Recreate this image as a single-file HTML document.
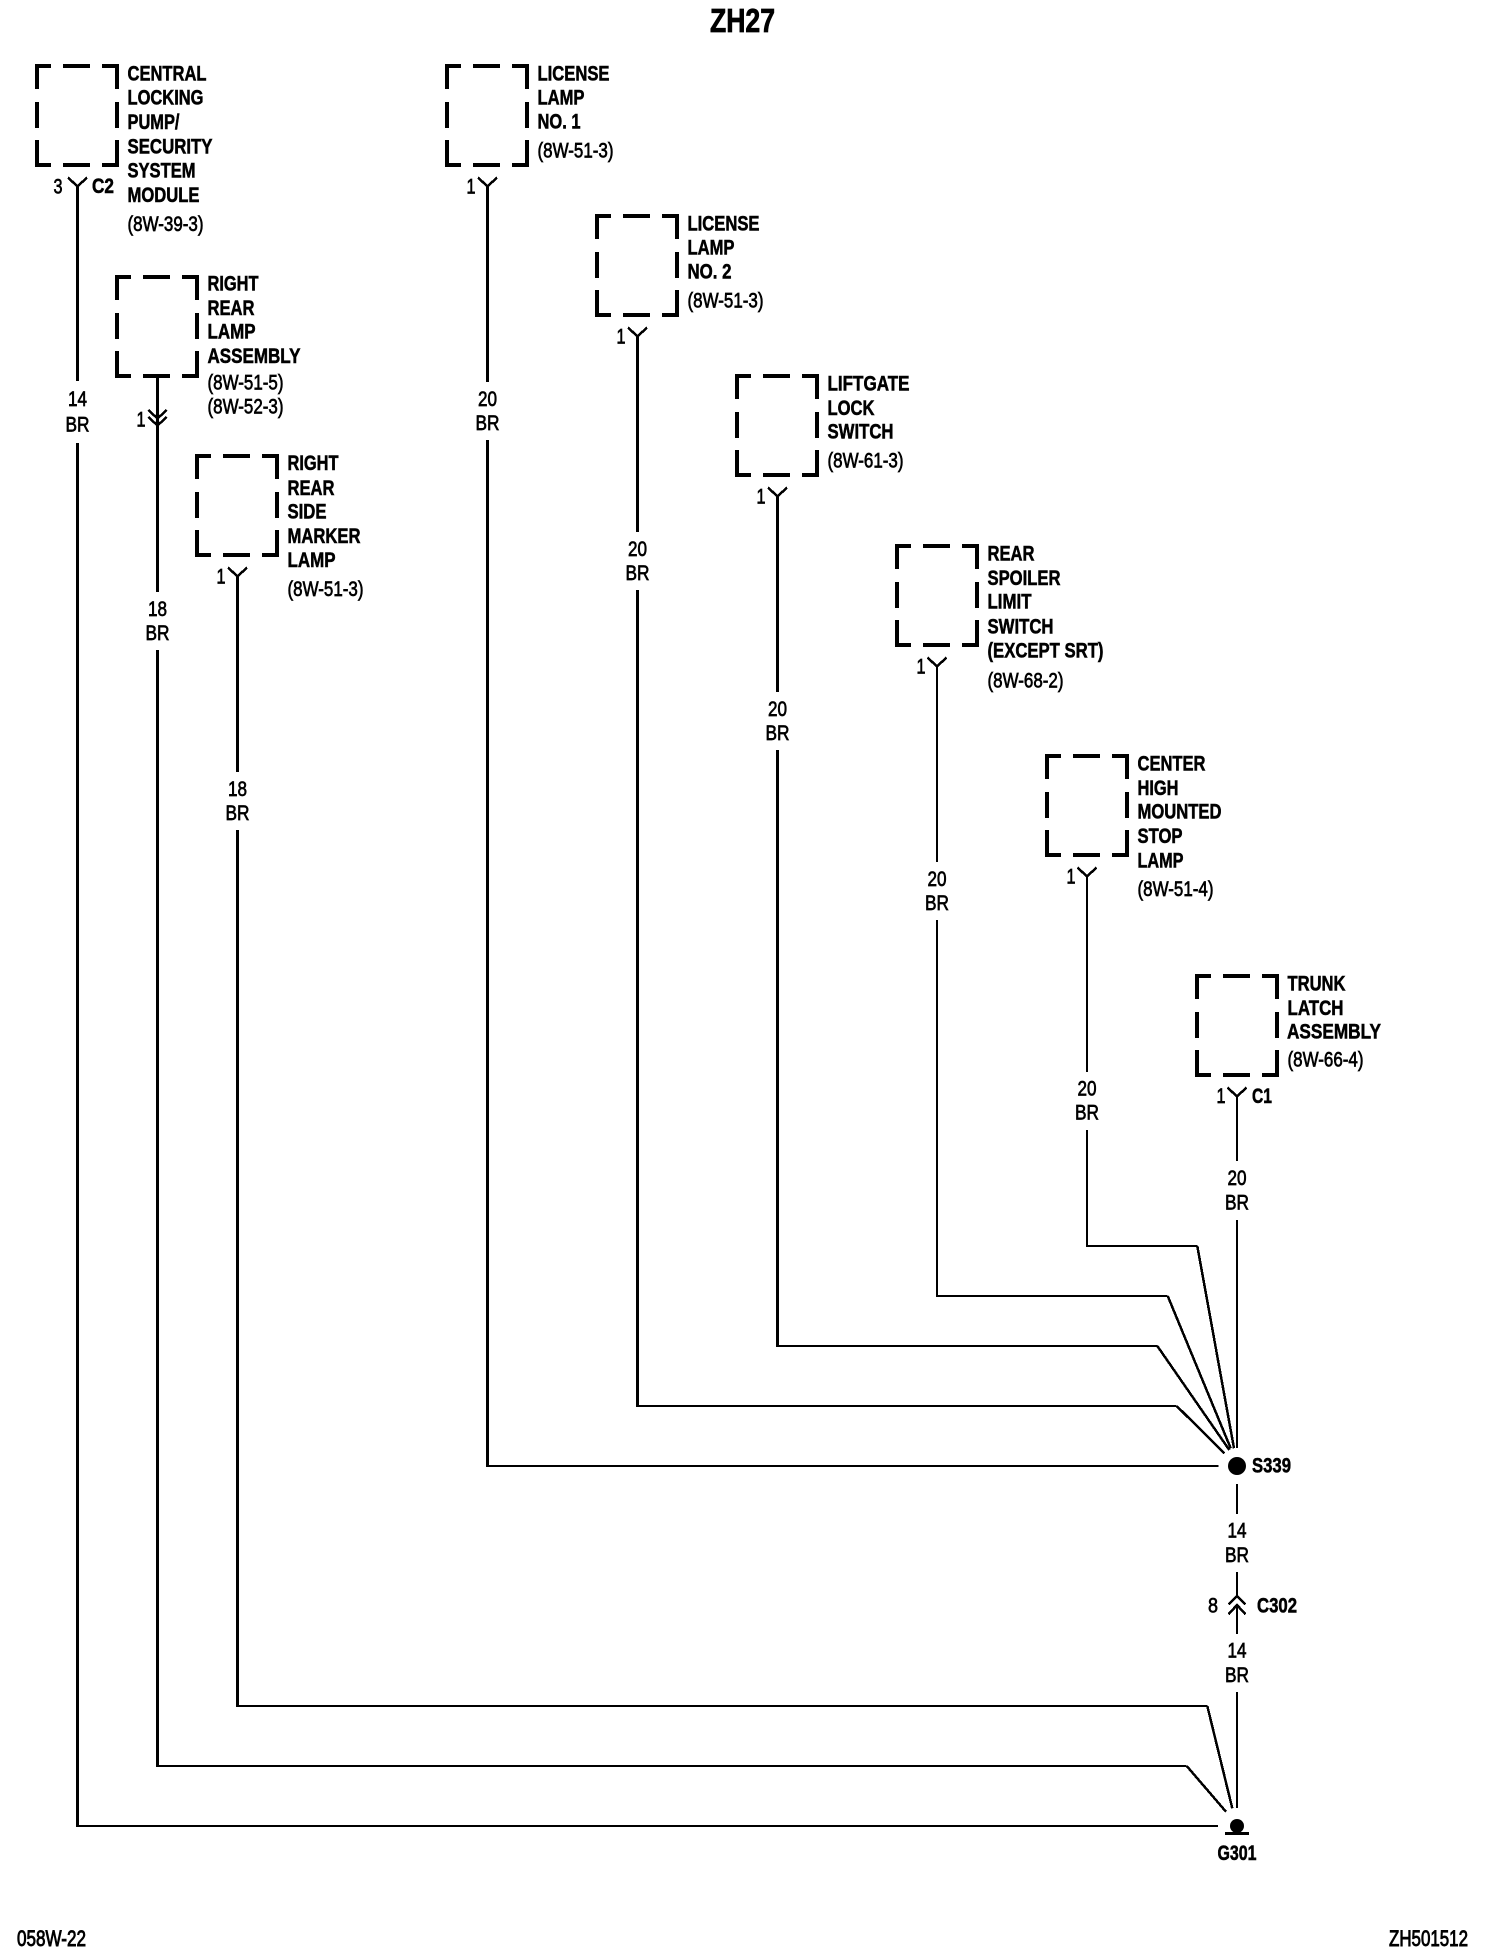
<!DOCTYPE html>
<html><head><meta charset="utf-8"><style>
html,body{margin:0;padding:0;background:#fff}
svg{display:block}
text{font-family:"Liberation Sans",sans-serif;font-size:21px;fill:#000;transform:translateY(-.6px)}
.b{font-weight:bold;stroke:#000;stroke-width:.55px}
.r{stroke:#000;stroke-width:.7px}
.m{text-anchor:middle}
.w{fill:none;stroke:#000;shape-rendering:crispEdges}
</style></head><body>
<svg xmlns="http://www.w3.org/2000/svg" width="1504" height="1954" viewBox="0 0 1504 1954">
<rect width="1504" height="1954" fill="#fff"/>
<defs>
<path id="bx" class="w" stroke-width="4" d="M2 25V2H16M28 2H55M67 2H82V25M2 38V64M82 38V64M2 76V101H16M28 101H55M67 101H82V76"/>
<path id="yc" class="w" stroke-width="2.5" d="M-9.5 -.5L0 8.5L9.5 -.5"/>
</defs>
<!-- boxes -->
<use href="#bx" x="35" y="64"/><use href="#bx" x="115" y="275"/><use href="#bx" x="195" y="454"/>
<use href="#bx" x="445" y="64"/><use href="#bx" x="595" y="214"/><use href="#bx" x="735" y="374"/>
<use href="#bx" x="895" y="544"/><use href="#bx" x="1045" y="754"/><use href="#bx" x="1195" y="974"/>
<!-- connectors -->
<use href="#yc" x="77.5" y="178"/><use href="#yc" x="237.5" y="568"/><use href="#yc" x="487.5" y="178"/>
<use href="#yc" x="637.5" y="328"/><use href="#yc" x="777.5" y="488"/><use href="#yc" x="937" y="658"/>
<use href="#yc" x="1087" y="868"/><use href="#yc" x="1237" y="1088"/>
<path class="w" stroke-width="2.5" d="M148.3 410L157.5 418.5L166.7 410M148.3 417L157.5 425.5L166.7 417"/>
<path class="w" stroke-width="2.5" d="M1228.5 1604.5L1237 1596L1245.5 1604.5M1228.5 1614.3L1237 1605L1245.5 1614.3"/>
<!-- verticals 3px -->
<path class="w" stroke-width="3" d="M77.5 186V381M77.5 443V1827M157.5 377V592M157.5 650V1767M237.5 576V772M237.5 830V1707M487.5 186V382M487.5 440V1467M637.5 336V532M637.5 590V1407M777.5 496V692M777.5 750V1347"/>
<!-- verticals 2px -->
<path class="w" stroke-width="2" d="M937 666V862M937 920V1297M1087 876V1072M1087 1130V1247M1237 1096V1161M1237 1220V1448M1237 1484V1514M1237 1572V1596M1237 1605V1634M1237 1692V1808"/>
<!-- horizontals -->
<path class="w" stroke-width="2" d="M1087 1246H1197.3M937 1296H1167.7M777.5 1346H1157.3M637.5 1406H1176.7M487.5 1466H1218.3M237.5 1706H1207.3M157.5 1766H1186.7M77.5 1826H1218"/>
<!-- diagonals -->
<path class="w" stroke-width="2.5" d="M1197.3 1246L1234 1448.3M1167.7 1296L1230.7 1448.3M1157.3 1346L1229.3 1450M1176.7 1406L1224.3 1453.3M1207.3 1706L1232.3 1808.3M1186.7 1766L1226 1811.7"/>
<!-- splice + ground -->
<circle cx="1237" cy="1466" r="9"/>
<circle cx="1237" cy="1826" r="7"/>
<rect x="1225" y="1832" width="24" height="3"/>
<!-- title -->
<text class="b" x="710" y="32.7" style="font-size:33px;stroke-width:.8px" textLength="65" lengthAdjust="spacingAndGlyphs">ZH27</text>
<text class="r" x="17" y="1946.7" style="font-size:22px;stroke-width:.9px" textLength="69" lengthAdjust="spacingAndGlyphs">058W-22</text>
<text class="r" x="1389" y="1946.7" style="font-size:22px;stroke-width:.9px" textLength="79" lengthAdjust="spacingAndGlyphs">ZH501512</text>
<!-- B1 -->
<text class="b" x="127.5" y="81" textLength="79" lengthAdjust="spacingAndGlyphs">CENTRAL</text>
<text class="b" x="127.5" y="105.3" textLength="76" lengthAdjust="spacingAndGlyphs">LOCKING</text>
<text class="b" x="127.5" y="129.5" textLength="52" lengthAdjust="spacingAndGlyphs">PUMP/</text>
<text class="b" x="127.5" y="154" textLength="85" lengthAdjust="spacingAndGlyphs">SECURITY</text>
<text class="b" x="127.5" y="178" textLength="68" lengthAdjust="spacingAndGlyphs">SYSTEM</text>
<text class="b" x="127.5" y="202.5" textLength="72" lengthAdjust="spacingAndGlyphs">MODULE</text>
<text class="r" x="127.5" y="231.7" textLength="76" lengthAdjust="spacingAndGlyphs">(8W-39-3)</text>
<text class="r" x="53.5" y="194" textLength="9" lengthAdjust="spacingAndGlyphs">3</text>
<text class="b" x="92" y="193.5" textLength="22" lengthAdjust="spacingAndGlyphs">C2</text>
<!-- B2 -->
<text class="b" x="207.5" y="291" textLength="51" lengthAdjust="spacingAndGlyphs">RIGHT</text>
<text class="b" x="207.5" y="315.5" textLength="47" lengthAdjust="spacingAndGlyphs">REAR</text>
<text class="b" x="207.5" y="339.3" textLength="48" lengthAdjust="spacingAndGlyphs">LAMP</text>
<text class="b" x="207.5" y="363.5" textLength="93" lengthAdjust="spacingAndGlyphs">ASSEMBLY</text>
<text class="r" x="207.5" y="390" textLength="76" lengthAdjust="spacingAndGlyphs">(8W-51-5)</text>
<text class="r" x="207.5" y="414" textLength="76" lengthAdjust="spacingAndGlyphs">(8W-52-3)</text>
<text class="r" x="136.5" y="427" textLength="9" lengthAdjust="spacingAndGlyphs">1</text>
<!-- B3 -->
<text class="b" x="287.5" y="470.7" textLength="51" lengthAdjust="spacingAndGlyphs">RIGHT</text>
<text class="b" x="287.5" y="495.5" textLength="47" lengthAdjust="spacingAndGlyphs">REAR</text>
<text class="b" x="287.5" y="519.3" textLength="39" lengthAdjust="spacingAndGlyphs">SIDE</text>
<text class="b" x="287.5" y="543.7" textLength="73" lengthAdjust="spacingAndGlyphs">MARKER</text>
<text class="b" x="287.5" y="567.7" textLength="48" lengthAdjust="spacingAndGlyphs">LAMP</text>
<text class="r" x="287.5" y="596.7" textLength="76" lengthAdjust="spacingAndGlyphs">(8W-51-3)</text>
<text class="r" x="216.5" y="584" textLength="9" lengthAdjust="spacingAndGlyphs">1</text>
<!-- B4 -->
<text class="b" x="537.5" y="81" textLength="72" lengthAdjust="spacingAndGlyphs">LICENSE</text>
<text class="b" x="537.5" y="105.3" textLength="47" lengthAdjust="spacingAndGlyphs">LAMP</text>
<text class="b" x="537.5" y="129.3" textLength="43" lengthAdjust="spacingAndGlyphs">NO. 1</text>
<text class="r" x="537.5" y="158.3" textLength="76" lengthAdjust="spacingAndGlyphs">(8W-51-3)</text>
<text class="r" x="466.5" y="194" textLength="9" lengthAdjust="spacingAndGlyphs">1</text>
<!-- B5 -->
<text class="b" x="687.5" y="231" textLength="72" lengthAdjust="spacingAndGlyphs">LICENSE</text>
<text class="b" x="687.5" y="255.3" textLength="47" lengthAdjust="spacingAndGlyphs">LAMP</text>
<text class="b" x="687.5" y="279.3" textLength="44" lengthAdjust="spacingAndGlyphs">NO. 2</text>
<text class="r" x="687.5" y="308.3" textLength="76" lengthAdjust="spacingAndGlyphs">(8W-51-3)</text>
<text class="r" x="616.5" y="344" textLength="9" lengthAdjust="spacingAndGlyphs">1</text>
<!-- B6 -->
<text class="b" x="827.5" y="391" textLength="82" lengthAdjust="spacingAndGlyphs">LIFTGATE</text>
<text class="b" x="827.5" y="415.5" textLength="47" lengthAdjust="spacingAndGlyphs">LOCK</text>
<text class="b" x="827.5" y="439.3" textLength="66" lengthAdjust="spacingAndGlyphs">SWITCH</text>
<text class="r" x="827.5" y="468.3" textLength="76" lengthAdjust="spacingAndGlyphs">(8W-61-3)</text>
<text class="r" x="756.5" y="504" textLength="9" lengthAdjust="spacingAndGlyphs">1</text>
<!-- B7 -->
<text class="b" x="987.5" y="561" textLength="47" lengthAdjust="spacingAndGlyphs">REAR</text>
<text class="b" x="987.5" y="585.5" textLength="73" lengthAdjust="spacingAndGlyphs">SPOILER</text>
<text class="b" x="987.5" y="609.3" textLength="44" lengthAdjust="spacingAndGlyphs">LIMIT</text>
<text class="b" x="987.5" y="634" textLength="66" lengthAdjust="spacingAndGlyphs">SWITCH</text>
<text class="b" x="987.5" y="658.3" textLength="116" lengthAdjust="spacingAndGlyphs">(EXCEPT SRT)</text>
<text class="r" x="987.5" y="688.3" textLength="76" lengthAdjust="spacingAndGlyphs">(8W-68-2)</text>
<text class="r" x="916.5" y="674" textLength="9" lengthAdjust="spacingAndGlyphs">1</text>
<!-- B8 -->
<text class="b" x="1137.5" y="771" textLength="68" lengthAdjust="spacingAndGlyphs">CENTER</text>
<text class="b" x="1137.5" y="795.5" textLength="41" lengthAdjust="spacingAndGlyphs">HIGH</text>
<text class="b" x="1137.5" y="819.3" textLength="84" lengthAdjust="spacingAndGlyphs">MOUNTED</text>
<text class="b" x="1137.5" y="843.5" textLength="45" lengthAdjust="spacingAndGlyphs">STOP</text>
<text class="b" x="1137.5" y="868" textLength="46" lengthAdjust="spacingAndGlyphs">LAMP</text>
<text class="r" x="1137.5" y="896.7" textLength="76" lengthAdjust="spacingAndGlyphs">(8W-51-4)</text>
<text class="r" x="1066.5" y="884" textLength="9" lengthAdjust="spacingAndGlyphs">1</text>
<!-- B9 -->
<text class="b" x="1287.5" y="991" textLength="58" lengthAdjust="spacingAndGlyphs">TRUNK</text>
<text class="b" x="1287.5" y="1015.5" textLength="56" lengthAdjust="spacingAndGlyphs">LATCH</text>
<text class="b" x="1287" y="1039.3" textLength="94" lengthAdjust="spacingAndGlyphs">ASSEMBLY</text>
<text class="r" x="1287.5" y="1067.3" textLength="76" lengthAdjust="spacingAndGlyphs">(8W-66-4)</text>
<text class="r" x="1216.5" y="1103.5" textLength="9" lengthAdjust="spacingAndGlyphs">1</text>
<text class="b" x="1252" y="1103.5" textLength="20" lengthAdjust="spacingAndGlyphs">C1</text>
<!-- wire labels -->
<text class="r m" x="77.5" y="406.7" textLength="19" lengthAdjust="spacingAndGlyphs">14</text>
<text class="r m" x="77.5" y="432" textLength="24" lengthAdjust="spacingAndGlyphs">BR</text>
<text class="r m" x="157.5" y="616.7" textLength="19" lengthAdjust="spacingAndGlyphs">18</text>
<text class="r m" x="157.5" y="640.7" textLength="24" lengthAdjust="spacingAndGlyphs">BR</text>
<text class="r m" x="237.5" y="796.7" textLength="19" lengthAdjust="spacingAndGlyphs">18</text>
<text class="r m" x="237.5" y="820.7" textLength="24" lengthAdjust="spacingAndGlyphs">BR</text>
<text class="r m" x="487.5" y="406.7" textLength="19" lengthAdjust="spacingAndGlyphs">20</text>
<text class="r m" x="487.5" y="430.7" textLength="24" lengthAdjust="spacingAndGlyphs">BR</text>
<text class="r m" x="637.5" y="556.7" textLength="19" lengthAdjust="spacingAndGlyphs">20</text>
<text class="r m" x="637.5" y="580.7" textLength="24" lengthAdjust="spacingAndGlyphs">BR</text>
<text class="r m" x="777.5" y="716.7" textLength="19" lengthAdjust="spacingAndGlyphs">20</text>
<text class="r m" x="777.5" y="740.7" textLength="24" lengthAdjust="spacingAndGlyphs">BR</text>
<text class="r m" x="937" y="886.7" textLength="19" lengthAdjust="spacingAndGlyphs">20</text>
<text class="r m" x="937" y="910.7" textLength="24" lengthAdjust="spacingAndGlyphs">BR</text>
<text class="r m" x="1087" y="1096" textLength="19" lengthAdjust="spacingAndGlyphs">20</text>
<text class="r m" x="1087" y="1120" textLength="24" lengthAdjust="spacingAndGlyphs">BR</text>
<text class="r m" x="1237" y="1185.7" textLength="19" lengthAdjust="spacingAndGlyphs">20</text>
<text class="r m" x="1237" y="1210" textLength="24" lengthAdjust="spacingAndGlyphs">BR</text>
<text class="r m" x="1237" y="1538.3" textLength="19" lengthAdjust="spacingAndGlyphs">14</text>
<text class="r m" x="1237" y="1562.7" textLength="24" lengthAdjust="spacingAndGlyphs">BR</text>
<text class="r m" x="1237" y="1658.3" textLength="19" lengthAdjust="spacingAndGlyphs">14</text>
<text class="r m" x="1237" y="1682.7" textLength="24" lengthAdjust="spacingAndGlyphs">BR</text>
<!-- refs -->
<text class="b" x="1252" y="1473.3" textLength="39" lengthAdjust="spacingAndGlyphs">S339</text>
<text class="r" x="1208" y="1613.3" textLength="10" lengthAdjust="spacingAndGlyphs">8</text>
<text class="b" x="1257" y="1613.3" textLength="40" lengthAdjust="spacingAndGlyphs">C302</text>
<text class="b" x="1217.5" y="1860.7" textLength="39" lengthAdjust="spacingAndGlyphs">G301</text>
</svg>
</body></html>
